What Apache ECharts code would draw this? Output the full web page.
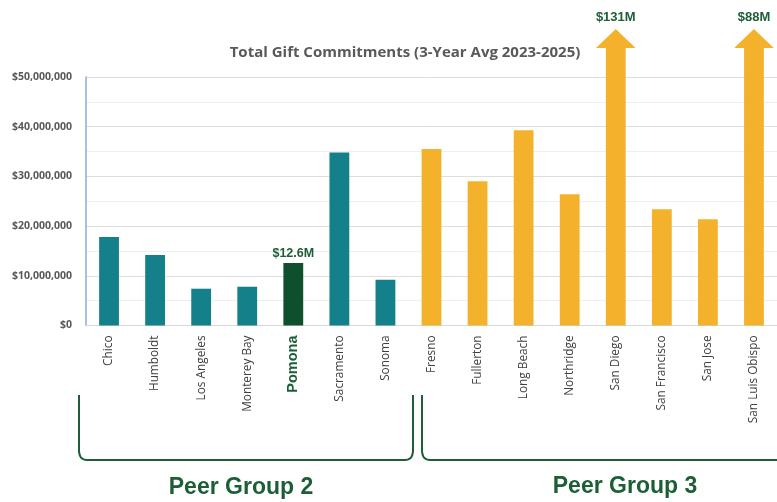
<!DOCTYPE html>
<html>
<head>
<meta charset="utf-8">
<script src="https://cdn.jsdelivr.net/npm/echarts@6/dist/echarts.min.js"></script>
<style>html,body{margin:0;padding:0;background:#fff}#c{width:777px;height:502px}</style>
</head>
<body>
<div id="c"></div>
<script>
// ---- data ----
var categories = ['Chico','Humboldt','Los Angeles','Monterey Bay','Pomona','Sacramento','Sonoma',
  'Fresno','Fullerton','Long Beach','Northridge','San Diego','San Francisco','San Jose','San Luis Obispo'];
var groups = [2,2,2,2,2,2,2,3,3,3,3,3,3,3,3];
var values = [17.8e6,14.2e6,7.4e6,7.8e6,12.6e6,34.8e6,9.2e6,
  35.5e6,29.0e6,39.3e6,26.4e6,131e6,23.4e6,21.4e6,88e6];
var highlight = 'Pomona';
var yTicks = [0,10e6,20e6,30e6,40e6,50e6];
var groupLabels = ['Peer Group 2','Peer Group 3'];
var title = 'Total Gift Commitments (3-Year Avg 2023-2025)';

var AXIS_MAX = yTicks[yTicks.length-1];
var TEAL = '#13808a', GOLD = '#f4b22c', DARK = '#0e4f2e', TXTGREEN = '#1c5e36';

function fmtM(v){ return '$' + (Math.round(v/1e5)/10) + 'M'; }

var barData = values.map(function(v,i){
  var c = categories[i] === highlight ? DARK : (groups[i] === 2 ? TEAL : GOLD);
  if (v > AXIS_MAX) return {value:'-'};
  var d = {value:v, itemStyle:{color:c}};
  if (categories[i] === highlight) {
    d.label = {show:true, position:'top', distance:3, formatter:fmtM(v),
      color:TXTGREEN, fontWeight:'bold', fontSize:12.5, fontFamily:'Liberation Sans'};
  }
  return d;
});
var overData = [];
values.forEach(function(v,i){ if (v > AXIS_MAX) overData.push([i, v]); });

// bracket shapes (quadratic corners sampled into polylines)
function quad(p0, p1, p2, n){
  var out = [];
  for (var k=1;k<=n;k++){ var t=k/n, a=(1-t)*(1-t), b=2*(1-t)*t, c=t*t;
    out.push([a*p0[0]+b*p1[0]+c*p2[0], a*p0[1]+b*p1[1]+c*p2[1]]); }
  return out;
}
var br2 = [[79,395],[79,451]].concat(quad([79,451],[79.5,460],[87,460],8))
  .concat([[405,460]]).concat(quad([405,460],[412.5,460],[413,451],8)).concat([[413,395]]);
var br3 = [[422,395],[422,451]].concat(quad([422,451],[422.5,460],[430,460],8)).concat([[790,460]]);

var chart = echarts.init(document.getElementById('c'));
chart.setOption({
  animation:false,
  title:{text:title, left:400, top:40, textAlign:'center',
    textStyle:{fontFamily:'Open Sans', fontWeight:'bold', fontSize:15, color:'#595959'}},
  grid:{left:86, right:-7, top:77, bottom:176.5, containLabel:false},
  xAxis:{type:'category', data:categories,
    axisLine:{lineStyle:{color:'#d9d9d9', width:1}},
    axisTick:{show:false},
    axisLabel:{rotate:90, margin:10, interval:0, color:'#404040', fontSize:11.8, fontFamily:'Open Sans',
      formatter:function(v){ return v === highlight ? '{h|'+v+'}' : v; },
      rich:{h:{color:TXTGREEN, fontWeight:'bold', fontSize:14.5, fontFamily:'Liberation Sans'}}}
  },
  yAxis:{type:'value', min:0, max:AXIS_MAX, interval:10e6,
    axisLine:{show:true, lineStyle:{color:'#8eaadb', width:1.5}},
    axisTick:{show:false},
    axisLabel:{margin:14, color:'#595959', fontWeight:'bold', fontSize:10.5, fontFamily:'Open Sans',
      formatter:function(v){ return '$' + v.toLocaleString('en-US'); }},
    splitLine:{lineStyle:{color:'#dedede', width:1}},
    minorTick:{show:false, splitNumber:2},
    minorSplitLine:{show:true, lineStyle:{color:'#eeeeee', width:1}}
  },
  series:[
    {type:'bar', data:barData, barWidth:'43%'},
    {type:'custom', data:overData, clip:false,
      renderItem:function(params, api){
        var i = api.value(0), v = api.value(1);
        var base = api.coord([i, 0]);
        var top = api.coord([i, AXIS_MAX]);
        var w = api.size([1,0])[0];
        var sw = w*0.43/2, hw = w*0.43;
        var tipY = top[1] - 48, headY = top[1] - 29;
        var x = base[0];
        return {type:'group', children:[
          {type:'polygon', shape:{points:[[x-sw,base[1]],[x-sw,headY],[x-hw,headY],[x,tipY],[x+hw,headY],[x+sw,headY],[x+sw,base[1]]]},
            style:{fill:GOLD}},
          {type:'text', x:x, y:tipY-12, style:{text:fmtM(v), textAlign:'center', textVerticalAlign:'middle',
            fill:TXTGREEN, font:'bold 13px "Liberation Sans"'}}
        ]};
      }
    }
  ],
  graphic:[
    {type:'polyline', shape:{points:br2}, style:{stroke:TXTGREEN, lineWidth:2, fill:null}},
    {type:'polyline', shape:{points:br3}, style:{stroke:TXTGREEN, lineWidth:2, fill:null}},
    {type:'text', x:241, y:488, style:{text:groupLabels[0], textAlign:'center', textVerticalAlign:'middle',
      fill:TXTGREEN, font:'bold 23px "Liberation Sans"'}},
    {type:'text', x:625, y:487, style:{text:groupLabels[1], textAlign:'center', textVerticalAlign:'middle',
      fill:TXTGREEN, font:'bold 23px "Liberation Sans"'}}
  ]
});
</script>
</body>
</html>
